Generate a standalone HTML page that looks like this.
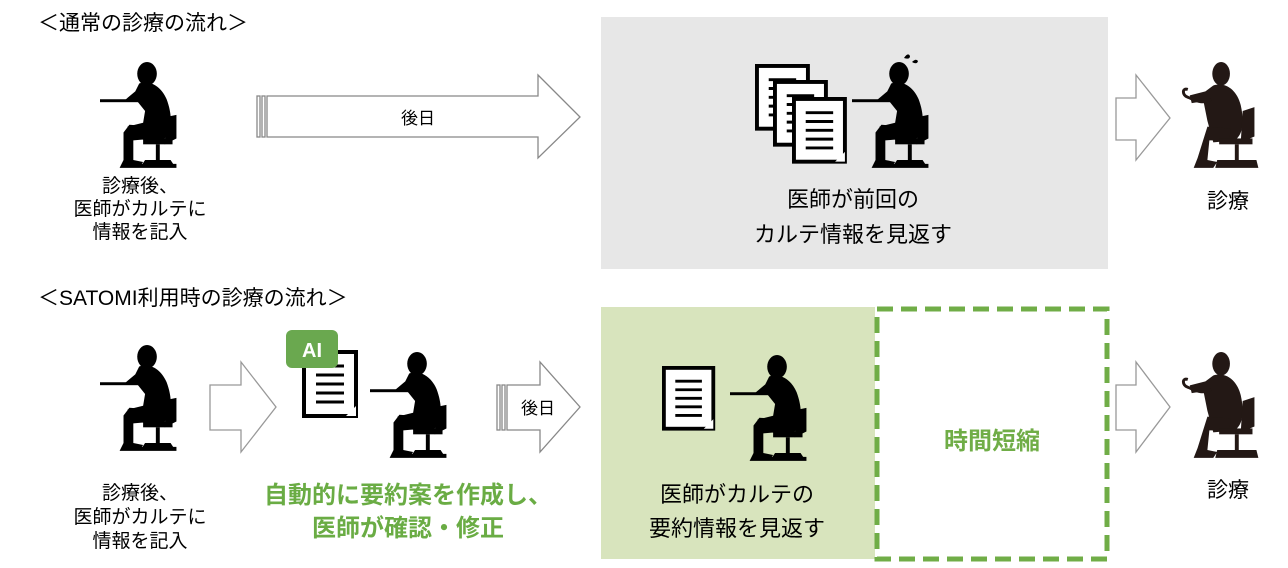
<!DOCTYPE html>
<html><head><meta charset="utf-8"><style>
html,body{margin:0;padding:0;background:#fff;}
svg{display:block;font-family:"Liberation Sans","Noto Sans CJK JP",sans-serif;}
</style></head><body>
<svg width="1288" height="568" viewBox="0 0 1288 568" xmlns="http://www.w3.org/2000/svg">
<defs>
<g id="writer">
  <rect x="0" y="38" width="40" height="3" fill="#000"/>
  <ellipse cx="48" cy="12" rx="10" ry="12" fill="#000"/>
  <path d="M40 22 C50 18 62 24 68 38 C74 54 74 70 66 78 L46 80 L34 76 L28 66 L44 62 L46 50 L38 40 L24 40 L36 30 Z" fill="#000"/>
  <path d="M30 64 L56 66 L56 78 L34 80 L34 100 L44 102 L40 108 L20 108 L24 100 L24 72 Z" fill="#000"/>
  <path d="M68 56 L78 54 L78 78 L66 84 Z" fill="#000"/>
  <rect x="44" y="78" width="30" height="6" fill="#000"/>
  <rect x="57" y="84" width="4" height="16" fill="#000"/>
  <path d="M40 104 L78 104 L78 108 L40 108 Z" fill="#000"/>
  <path d="M46 100 L72 100 L76 106 L42 106 Z" fill="#000"/>
  <path d="M28 38 L42 28 L44 30 L32 38 Z" fill="#000"/>
</g>
<g id="doctor">
  <ellipse cx="44" cy="12" rx="9" ry="12" fill="#231815"/>
  <path d="M36 24 C48 20 60 28 64 44 C68 62 66 74 58 80 L36 82 L30 60 L26 40 L14 42 L12 34 L28 30 Z" fill="#231815"/>
  <path d="M10 28 C4 26 4 34 10 36 C16 38 24 44 34 38" stroke="#231815" stroke-width="3" fill="none"/>
  <path d="M30 66 L54 68 L52 80 L32 80 L30 100 L40 102 L36 108 L16 108 L20 98 Z" fill="#231815"/>
  <path d="M66 50 L78 46 L78 76 L64 82 Z" fill="#231815"/>
  <rect x="42" y="78" width="34" height="6" fill="#231815"/>
  <rect x="58" y="84" width="4" height="16" fill="#231815"/>
  <path d="M40 100 L80 100 L82 108 L38 108 Z" fill="#231815"/>
</g>
<g id="doc">
  <rect x="2" y="2" width="52" height="64" fill="#fff" stroke="#000" stroke-width="4"/>
  <g stroke="#000" stroke-width="3">
    <line x1="14" y1="16" x2="42" y2="16"/>
    <line x1="14" y1="25" x2="42" y2="25"/>
    <line x1="14" y1="34" x2="42" y2="34"/>
    <line x1="14" y1="43" x2="42" y2="43"/>
    <line x1="14" y1="52" x2="42" y2="52"/>
  </g>
  <path d="M44 66 L54 56 L54 66 Z" fill="#fff"/>
</g>
</defs>

<text x="38" y="30" font-size="21" fill="#000">＜通常の診療の流れ＞</text>
<text x="38" y="305" font-size="21" fill="#000">＜SATOMI利用時の診療の流れ＞</text>

<use href="#writer" transform="translate(100,62) scale(0.98)"/>
<g font-size="19" text-anchor="middle" fill="#000">
  <text x="140" y="192">診療後、</text>
  <text x="140" y="215">医師がカルテに</text>
  <text x="140" y="238">情報を記入</text>
</g>
<g fill="#fff" stroke="#888" stroke-width="1.3">
  <rect x="257" y="96" width="3" height="41"/>
  <rect x="262" y="96" width="3" height="41"/>
  <path d="M267 96 L538 96 L538 75 L580 117 L538 158 L538 137 L267 137 Z"/>
</g>
<text x="418" y="124" font-size="17" text-anchor="middle">後日</text>

<rect x="601" y="17" width="507" height="252" fill="#e7e7e7"/>
<use href="#doc" transform="translate(755,64) scale(0.98)"/>
<use href="#doc" transform="translate(773,80) scale(0.98)"/>
<use href="#doc" transform="translate(792,97) scale(0.98)"/>
<use href="#writer" transform="translate(852,62) scale(0.98)"/>
<path d="M904 58 q4 -6 6 -2 q0 4 -6 2Z M912 62 q4 -4 6 -1 q-1 4 -6 1Z" fill="#000"/>
<g font-size="22" text-anchor="middle" fill="#000">
  <text x="853" y="207">医師が前回の</text>
  <text x="853" y="242">カルテ情報を見返す</text>
</g>

<path d="M1116 98 L1136 98 L1136 75 L1170 118 L1136 160 L1136 140 L1116 140 Z" fill="#fff" stroke="#999" stroke-width="1.3"/>
<use href="#doctor" transform="translate(1178,62) scale(0.98)"/>
<text x="1228" y="208" font-size="21" text-anchor="middle">診療</text>

<use href="#writer" transform="translate(100,345) scale(0.98)"/>
<g font-size="19" text-anchor="middle" fill="#000">
  <text x="140" y="499">診療後、</text>
  <text x="140" y="523">医師がカルテに</text>
  <text x="140" y="547">情報を記入</text>
</g>
<path d="M210 385 L241 385 L241 362 L276 407 L241 452 L241 430 L210 430 Z" fill="#fff" stroke="#999" stroke-width="1.3"/>

<use href="#doc" transform="translate(302,350) scale(1.0)"/>
<rect x="286" y="330" width="52" height="38" rx="6" fill="#6aa84f"/>
<text x="312" y="357" font-size="20" font-weight="bold" fill="#fff" text-anchor="middle">AI</text>
<use href="#writer" transform="translate(370,352) scale(0.98)"/>
<g font-size="24" font-weight="bold" text-anchor="middle" fill="#6aac44">
  <text x="408" y="503">自動的に要約案を作成し、</text>
  <text x="408" y="536">医師が確認・修正</text>
</g>

<g fill="#fff" stroke="#888" stroke-width="1.3">
  <rect x="497" y="385" width="3" height="45"/>
  <rect x="502" y="385" width="3" height="45"/>
  <path d="M507 385 L540 385 L540 362 L580 407 L540 452 L540 430 L507 430 Z"/>
</g>
<text x="538" y="414" font-size="17" text-anchor="middle">後日</text>

<rect x="601" y="307" width="274" height="252" fill="#d8e4bd"/>
<use href="#doc" transform="translate(662,366) scale(0.95)"/>
<use href="#writer" transform="translate(730,355) scale(0.98)"/>
<g font-size="22" text-anchor="middle" fill="#000">
  <text x="737" y="502">医師がカルテの</text>
  <text x="737" y="536">要約情報を見返す</text>
</g>
<rect x="877" y="309" width="230" height="250" fill="none" stroke="#70ad47" stroke-width="5" stroke-dasharray="16,8"/>
<text x="992" y="449" font-size="24" font-weight="bold" fill="#70ad47" text-anchor="middle">時間短縮</text>

<path d="M1116 385 L1136 385 L1136 362 L1170 407 L1136 452 L1136 430 L1116 430 Z" fill="#fff" stroke="#999" stroke-width="1.3"/>
<use href="#doctor" transform="translate(1178,352) scale(0.98)"/>
<text x="1228" y="497" font-size="21" text-anchor="middle">診療</text>
</svg>
</body></html>
